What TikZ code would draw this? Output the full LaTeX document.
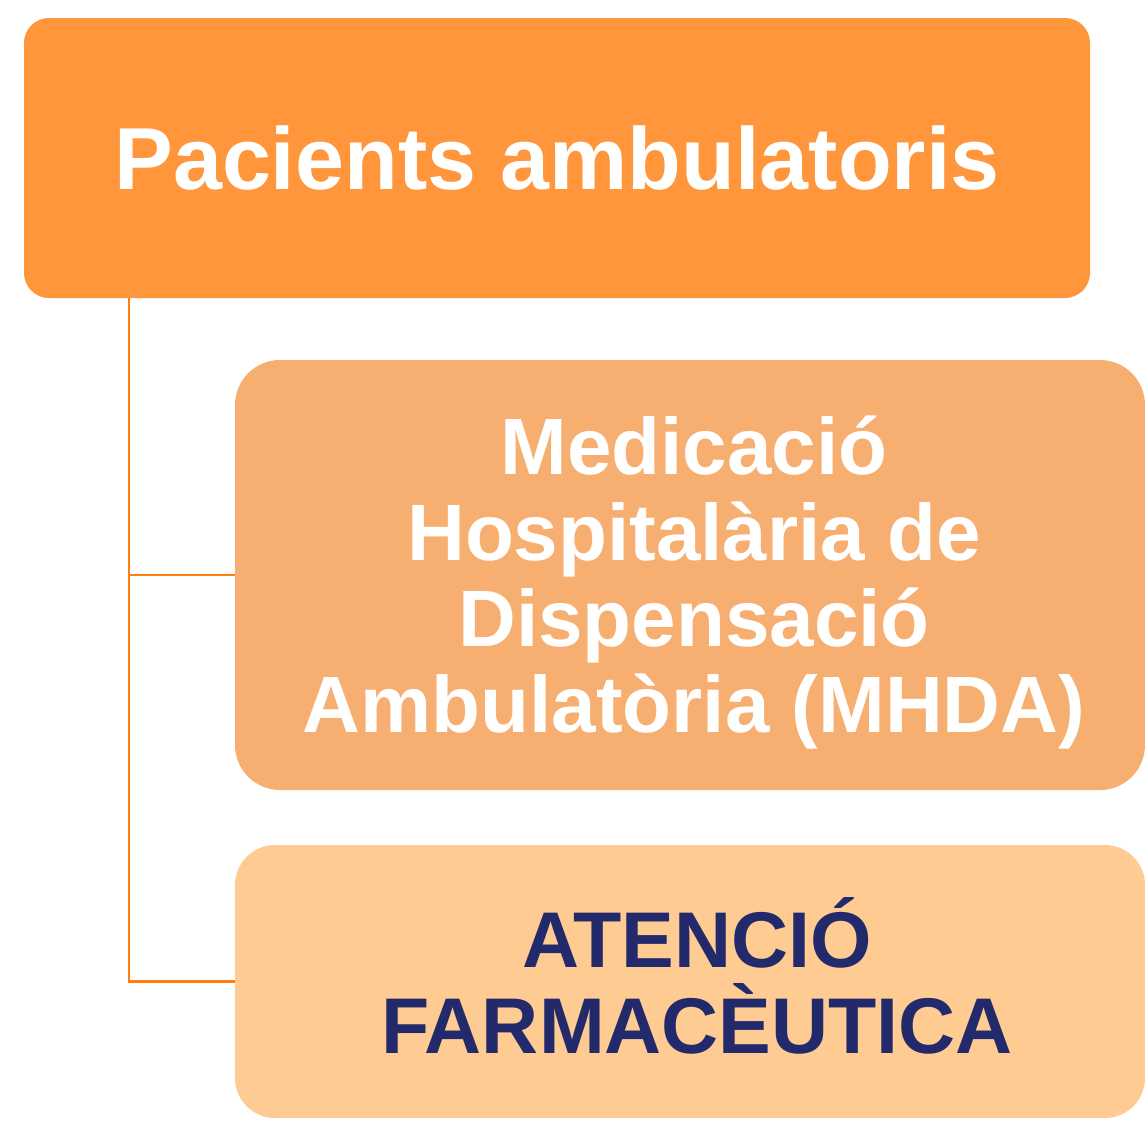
\documentclass[tikz,border=0pt]{standalone}
\usepackage{fontspec}
\setmainfont{Liberation Sans}
\definecolor{taronja}{HTML}{FF963C}
\definecolor{taronjamig}{HTML}{F7AF71}
\definecolor{taronjaclar}{HTML}{FECB93}
\definecolor{linia}{HTML}{FF8010}
\definecolor{blaufosc}{HTML}{232A6B}
\begin{document}
\begin{tikzpicture}[x=1pt,y=-1pt,
	caixa/.style={rectangle,inner sep=0pt,align=center,font=\bfseries},
	connector/.style={draw=linia,line width=2.2pt}]
	\useasboundingbox (0,0) rectangle (1145,1120);
	\node[caixa,fill=taronja,rounded corners=25pt,minimum width=1066pt,minimum height=280pt,
		text=white,font=\fontsize{88}{100}\bfseries] (pac) at (557,158) {Pacients ambulatoris};
	\node[caixa,fill=taronjamig,rounded corners=45pt,minimum width=910pt,minimum height=430pt,
		text=white,font=\fontsize{80}{86}\bfseries] (mhda) at (690,575) {};
	\node[white,font=\fontsize{80}{86}\bfseries,align=center,inner sep=0pt] (mhdatxt) at (694,582) {Medicació\\Hospitalària de\\Dispensació\\Ambulatòria (MHDA)};
	\node[caixa,fill=taronjaclar,rounded corners=40pt,minimum width=910pt,minimum height=273pt] (atf) at (690,981.5) {};
	\node[blaufosc,font=\fontsize{79}{86}\bfseries,align=center,inner sep=0pt] (atftxt) at (697,976) {ATENCIÓ\\FARMACÈUTICA};
	\coordinate (arrel) at ([xshift=105pt]pac.south west);
	\draw[connector] (arrel) |- (mhda.west);
	\draw[connector] (arrel) |- (atf.west);
\end{tikzpicture}
\end{document}
